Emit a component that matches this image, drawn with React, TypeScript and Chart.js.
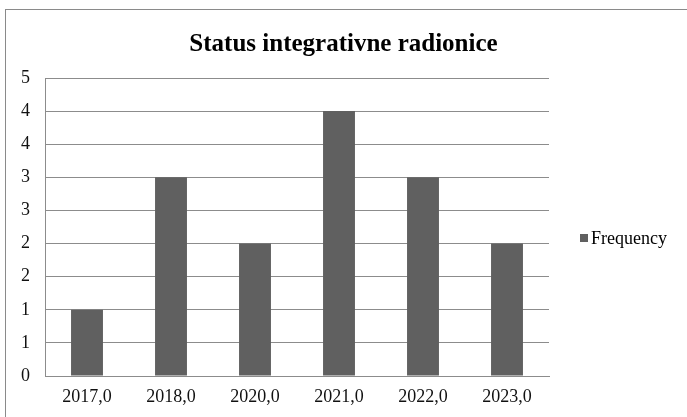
import React, { useEffect, useRef } from "react";
import { Chart, registerables } from "chart.js";

Chart.register(...registerables);

const categories = ["2017,0", "2018,0", "2020,0", "2021,0", "2022,0", "2023,0"];
const frequency = [1, 3, 2, 4, 3, 2];
const seriesName = "Frequency";
const titleText = "Status integrativne radionice";

const FONT = "Liberation Serif";

const decorations = {
  id: "decorations",
  afterDraw(chart: any) {
    const ctx = chart.ctx;
    const ds = chart.data.datasets[0];
    ctx.save();
    // title, centred on the whole canvas
    ctx.fillStyle = "#000";
    ctx.font = `bold 25px "${FONT}"`;
    ctx.textAlign = "center";
    ctx.textBaseline = "middle";
    ctx.fillText(titleText, chart.width / 2, 45);
    // legend on the right
    const x = chart.chartArea.right + 31;
    const y = 238;
    ctx.fillStyle = ds.backgroundColor;
    ctx.fillRect(x, y - 4, 8, 8);
    ctx.fillStyle = "#000";
    ctx.font = `18px "${FONT}"`;
    ctx.textBaseline = "middle";
    ctx.textAlign = "left";
    ctx.fillText(ds.label, x + 11, y + 1);
    ctx.restore();
  },
};

export default function App() {
  const ref = useRef<HTMLCanvasElement | null>(null);
  useEffect(() => {
    document.body.style.margin = "0";
    const ctx = ref.current!;
    const chart = new Chart(ctx, {
      type: "bar",
      data: {
        labels: categories,
        datasets: [
          {
            label: seriesName,
            data: frequency,
            backgroundColor: "#606060",
            borderWidth: 0,
            barPercentage: 0.38,
            categoryPercentage: 1,
          },
        ],
      },
      plugins: [decorations],
      options: {
        animation: false,
        responsive: false,
        maintainAspectRatio: false,
        layout: { padding: { left: 6, right: 138, top: 78, bottom: -1 } },
        plugins: {
          title: { display: false },
          legend: { display: false },
          tooltip: { enabled: false },
        },
        scales: {
          x: {
            grid: { display: false, drawTicks: false },
            border: { display: true, color: "#8c8c8c" },
            ticks: {
              color: "#111",
              font: { family: FONT, size: 18, lineHeight: 1 },
              padding: 12,
              maxRotation: 0,
            },
          },
          y: {
            min: 0,
            max: 4.5,
            grid: { color: "#8c8c8c", drawTicks: false },
            border: { display: true, color: "#8c8c8c" },
            ticks: {
              stepSize: 0.5,
              color: "#111",
              font: { family: FONT, size: 18 },
              padding: 15,
              callback: (v: any) => String(Math.round(Number(v))),
            },
          },
        },
      },
    });
    return () => chart.destroy();
  }, []);
  return (
    <div style={{ position: "relative", width: 687, height: 417, overflow: "hidden", background: "#fff" }}>
      <div
        style={{
          position: "absolute",
          left: 5,
          top: 9,
          width: 720,
          height: 440,
          border: "1px solid #8a8a8a",
          boxSizing: "border-box",
        }}
      />
      <canvas ref={ref} width={687} height={417} style={{ position: "absolute", left: 0, top: 0 }} />
    </div>
  );
}
